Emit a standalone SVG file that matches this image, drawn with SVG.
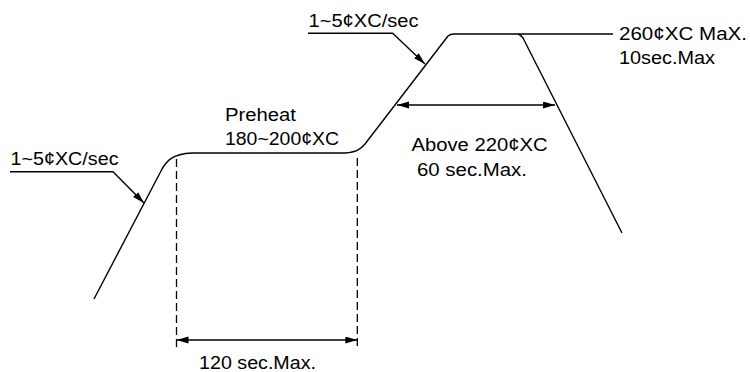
<svg xmlns="http://www.w3.org/2000/svg" width="750" height="372" viewBox="0 0 750 372">
<style>
.ln{fill:none;stroke:#000;stroke-width:1.4;stroke-linejoin:round;stroke-linecap:butt}
.ds{fill:none;stroke:#000;stroke-width:1.3;stroke-dasharray:8,4}
.tx{font-family:"Liberation Sans",Arial,sans-serif;font-size:17.5px;fill:#000}
</style>
<defs>
<marker id="ah" markerUnits="userSpaceOnUse" markerWidth="14" markerHeight="8" refX="12" refY="3.5" orient="auto-start-reverse">
<path d="M0,0 L12,3.5 L0,7 z" fill="#000"/>
</marker>
</defs>
<rect width="750" height="372" fill="#fff"/>
<g id="profile">
<path class="ln" d="M94,299 L161,171 C166,161 172,154 192,153 L345,153 C356,152 360,150 365,144 L448,36 Q450,34 454,34 L613,34"/>
<path class="ln" d="M518,34 Q521,35 523,38 L622,233"/>
</g>
<g id="connectors">
<path class="ln" d="M10,171.7 L113,171.7 L144,203" marker-end="url(#ah)"/>
<path class="ln" d="M308,33.3 L392.7,33.3 L425,64" marker-end="url(#ah)"/>
<path class="ln" d="M397,105 L555,105" marker-start="url(#ah)" marker-end="url(#ah)"/>
<path class="ds" d="M176.5,159 L176.5,347"/>
<path class="ds" d="M357.3,158 L357.3,347"/>
<path class="ln" d="M176.5,340 L357.3,340" marker-start="url(#ah)" marker-end="url(#ah)"/>
</g>
<g id="labels">
<text class="tx" x="10.5" y="164.5" textLength="108" lengthAdjust="spacingAndGlyphs">1~5¢XC/sec</text>
<text class="tx" x="308.5" y="27" textLength="110" lengthAdjust="spacingAndGlyphs">1~5¢XC/sec</text>
<text class="tx" x="225" y="121" textLength="71" lengthAdjust="spacingAndGlyphs">Preheat</text>
<text class="tx" x="225" y="144.5" textLength="114" lengthAdjust="spacingAndGlyphs">180~200¢XC</text>
<text class="tx" x="411.5" y="151" textLength="136" lengthAdjust="spacingAndGlyphs">Above 220¢XC</text>
<text class="tx" x="417" y="176" textLength="110" lengthAdjust="spacingAndGlyphs">60 sec.Max.</text>
<text class="tx" x="619" y="40" textLength="128" lengthAdjust="spacingAndGlyphs">260¢XC MaX.</text>
<text class="tx" x="619" y="64" textLength="96" lengthAdjust="spacingAndGlyphs">10sec.Max</text>
<text class="tx" x="199" y="369" textLength="117" lengthAdjust="spacingAndGlyphs">120 sec.Max.</text>
</g>
</svg>
